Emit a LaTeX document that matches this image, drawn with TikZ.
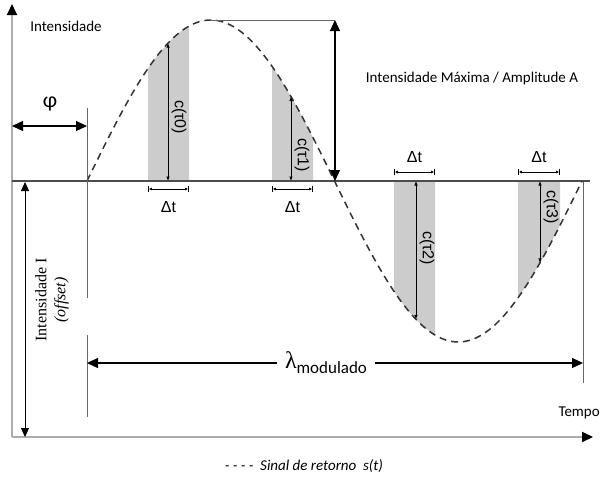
\documentclass[tikz,border=0pt]{standalone}
\usepackage{fontspec}
\setmainfont{Carlito}
\newfontfamily\arialf{Liberation Sans}
\newfontfamily\timesf{Liberation Serif}
\usetikzlibrary{arrows.meta}
% curva do sinal (coordenadas em px, y para baixo)
\newcommand{\sinal}[1]{181-161*sin(0.727273*(#1-87))}

\begin{document}
\begin{tikzpicture}[x=1pt,y=-1pt,
    every node/.style={font=\fontsize{15}{18}\selectfont},
    eixo/.style={draw=gray!65, line width=1.8pt},
    seta/.style={line width=1.2pt, {Triangle[width=10pt,length=11pt,color=black]}-{Triangle[width=10pt,length=11pt,color=black]}},
    fina/.style={line width=0.7pt, {Latex[width=3.5pt,length=4.5pt]}-{Latex[width=3.5pt,length=4.5pt]}},
    dtseta/.style={line width=0.9pt, >={Latex[width=3pt,length=3pt]}, |<->|},
    faixa/.style={fill=gray!40},
    rotulo/.style={font=\arialf\fontsize{16}{16}\selectfont, rotate=-90},
    dt/.style={font=\arialf\fontsize{16}{16}\selectfont},
    marca/.style={draw=gray!80!black, line width=1pt}]
    \useasboundingbox (0,0) rectangle (600,477);

    % faixas cinzentas
    \foreach \xa/\xb in {148/189, 272/313, 394/435, 518/560}
        \fill[faixa] plot[domain=\xa:\xb, samples=20] (\x,{\sinal{\x}}) -- (\xb,181) -- (\xa,181) -- cycle;

    % eixos
    \coordinate (O) at (12,437);
    \coordinate (ytopo) at (12,4);
    \coordinate (xfim) at (593,437);
    \draw[eixo, -{Triangle[width=10pt,length=11pt,color=black]}] (O) -- (ytopo);
    \draw[eixo, -{Triangle[width=10pt,length=11pt,color=black]}] (O) -- (xfim);
    \coordinate (m0) at (12,181);
    \coordinate (m1) at (590,181);
    \draw[line width=1.3pt, black!70] (m0) -- (m1);

    % sinal de retorno
    \draw[line width=1.5pt, black!80, dash pattern=on 7pt off 5pt]
        plot[domain=87:582, samples=150] (\x,{\sinal{\x}});

    % amplitude
    \coordinate (pico) at (210,20);
    \coordinate (ampT) at (335,20);
    \coordinate (ampB) at (335,181);
    \draw[marca] (pico) -- (ampT);
    \draw[seta] (ampT) -- (ampB);
    \node (amp) at (472,78) {Intensidade Máxima / Amplitude A};
    \node (int) at (66,26) {Intensidade};

    % fase
    \coordinate (f0) at (12,126);
    \coordinate (f1) at (87,126);
    \draw[seta] (f0) -- (f1);
    \node[font=\fontsize{22}{22}\selectfont] (phi) at (50,104) {φ};
    \coordinate (t0) at (87,108);
    \coordinate (t1) at (87,298);
    \coordinate (t2) at (87,335);
    \coordinate (t3) at (87,417);
    \draw[marca] (t0) -- (t1);
    \draw[marca] (t2) -- (t3);

    % offset
    \coordinate (i0) at (25,182);
    \coordinate (i1) at (25,437);
    \draw[line width=1pt, {Triangle[width=8pt,length=9pt]}-{Triangle[width=8pt,length=9pt]}] (i0) -- (i1);
    \node[rotate=90, align=center, font=\timesf\fontsize{16}{19}\selectfont] (off) at (52,300)
        {Intensidade I\\\textit{(offset)}};

    % comprimento de onda
    \coordinate (r0) at (583,182);
    \coordinate (r1) at (583,383);
    \draw[marca] (r0) -- (r1);
    \coordinate (l0) at (87,363);
    \coordinate (l1) at (583,363);
    \draw[seta] (l0) -- (l1);
    \node[fill=white, inner xsep=8pt] (lam) at (326,363)
        {{\timesf\fontsize{24}{24}\selectfont λ}\raisebox{-5pt}{\fontsize{17}{17}\selectfont modulado}};

    % amostras c(tau) e delta t
    \foreach \i/\xc/\xa/\xb/\yd/\yl/\yc in {0/168/148/189/189/207/117, 1/291/272/313/189/207/155,
                                           2/416/394/435/172/157/248, 3/540/518/560/172/157/207} {
        \coordinate (base\i) at (\xc,181);
        \coordinate (topo\i) at (\xc,{\sinal{\xc}});
        \draw[fina] (base\i) -- (topo\i);
        \node[rotulo] (c\i) at (\xc+11,\yc) {c(τ\i)};
        \coordinate (dta\i) at (\xa,\yd);
        \coordinate (dtb\i) at (\xb,\yd);
        \draw[dtseta] (dta\i) -- (dtb\i);
        \node[dt] (dt\i) at ({(\xa+\xb)/2},\yl) {Δt};
    }

    \node[anchor=west] (tempo) at (555,413) {Tempo};
    \node (leg) at (304,466) {\itshape - - - -\ \ Sinal de retorno\ \ s(t)};
\end{tikzpicture}
\end{document}
